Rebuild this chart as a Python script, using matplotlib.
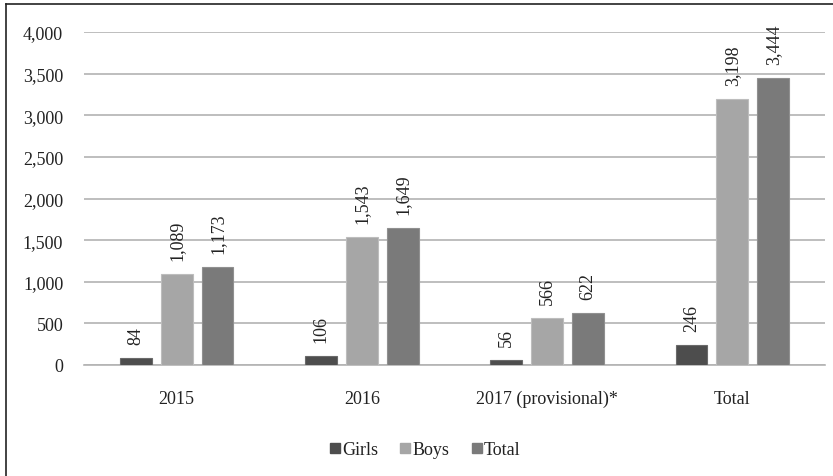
import matplotlib
matplotlib.use("Agg")
import matplotlib.pyplot as plt
import numpy as np
from matplotlib.lines import Line2D

categories = ["2015", "2016", "2017 (provisional)*", "Total"]
girls = [84, 106, 56, 246]
boys = [1089, 1543, 566, 3198]
total = [1173, 1649, 622, 3444]
series_names = ["Girls", "Boys", "Total"]
colors = ["#4d4d4d", "#a6a6a6", "#7a7a7a"]
edge_colors = ["#6a6a6a", "#bdbdbd", "#909090"]
yticks = [0, 500, 1000, 1500, 2000, 2500, 3000, 3500, 4000]

FAM = ['Liberation Serif', 'DejaVu Serif']
plt.rcParams['font.family'] = FAM
FS = 13

fig = plt.figure(figsize=(8.33, 4.77), dpi=100)
ax = fig.add_axes([84/833, 1-366/477, (825-84)/833, (366-33)/477])

x = np.arange(len(categories))
w = 0.172
step = 0.221
for i, (vals, name) in enumerate(zip([girls, boys, total], series_names)):
    pos = x + (i - 1) * step
    ax.bar(pos, vals, width=w, color=colors[i], edgecolor=edge_colors[i],
           linewidth=0.8, label=name, zorder=3)
    for p, v in zip(pos, vals):
        ax.annotate(f"{v:,}", (p, v), xytext=(0, 10), textcoords="offset points",
                    rotation=90, ha="center", va="bottom", fontsize=FS,
                    color="#222222")

ax.set_xlim(-0.5, len(categories) - 0.5)
ax.set_ylim(0, 4000)
ax.set_yticks(yticks)
ax.set_yticklabels([f"{t:,}" for t in yticks], fontsize=FS, color="#222222")
ax.set_xticks(x)
ax.set_xticklabels(categories, fontsize=FS, color="#222222")
ax.tick_params(axis="both", length=0)
ax.tick_params(axis="y", pad=15)
ax.tick_params(axis="x", pad=18)
ax.grid(axis="y", color="#b3b3b3", linewidth=1.2, zorder=0)
for s in ["top", "right", "left"]:
    ax.spines[s].set_visible(False)
ax.spines["bottom"].set_color("#b3b3b3")
ax.spines["bottom"].set_linewidth(1.2)

handles = [Line2D([], [], marker="s", linestyle="none", markersize=6.5,
                  markerfacecolor=c, markeredgecolor=c) for c in colors]
leg = fig.legend(handles, series_names, loc="center", bbox_to_anchor=(425/833, 1-451/477),
                 ncol=3, frameon=False, prop={'family': FAM, 'size': FS},
                 handlelength=0.6, handletextpad=0.1, columnspacing=1.2)
for t in leg.get_texts():
    t.set_color("#222222")

# outer frame (left and top edges visible)
fig.add_artist(Line2D([5.5/833, 5.5/833], [0, 1-4.5/477], transform=fig.transFigure,
                      color="#222222", linewidth=1.2))
fig.add_artist(Line2D([5.5/833, 1], [1-4.5/477, 1-4.5/477], transform=fig.transFigure,
                      color="#222222", linewidth=1.2))

fig.savefig("out.png", dpi=100)
